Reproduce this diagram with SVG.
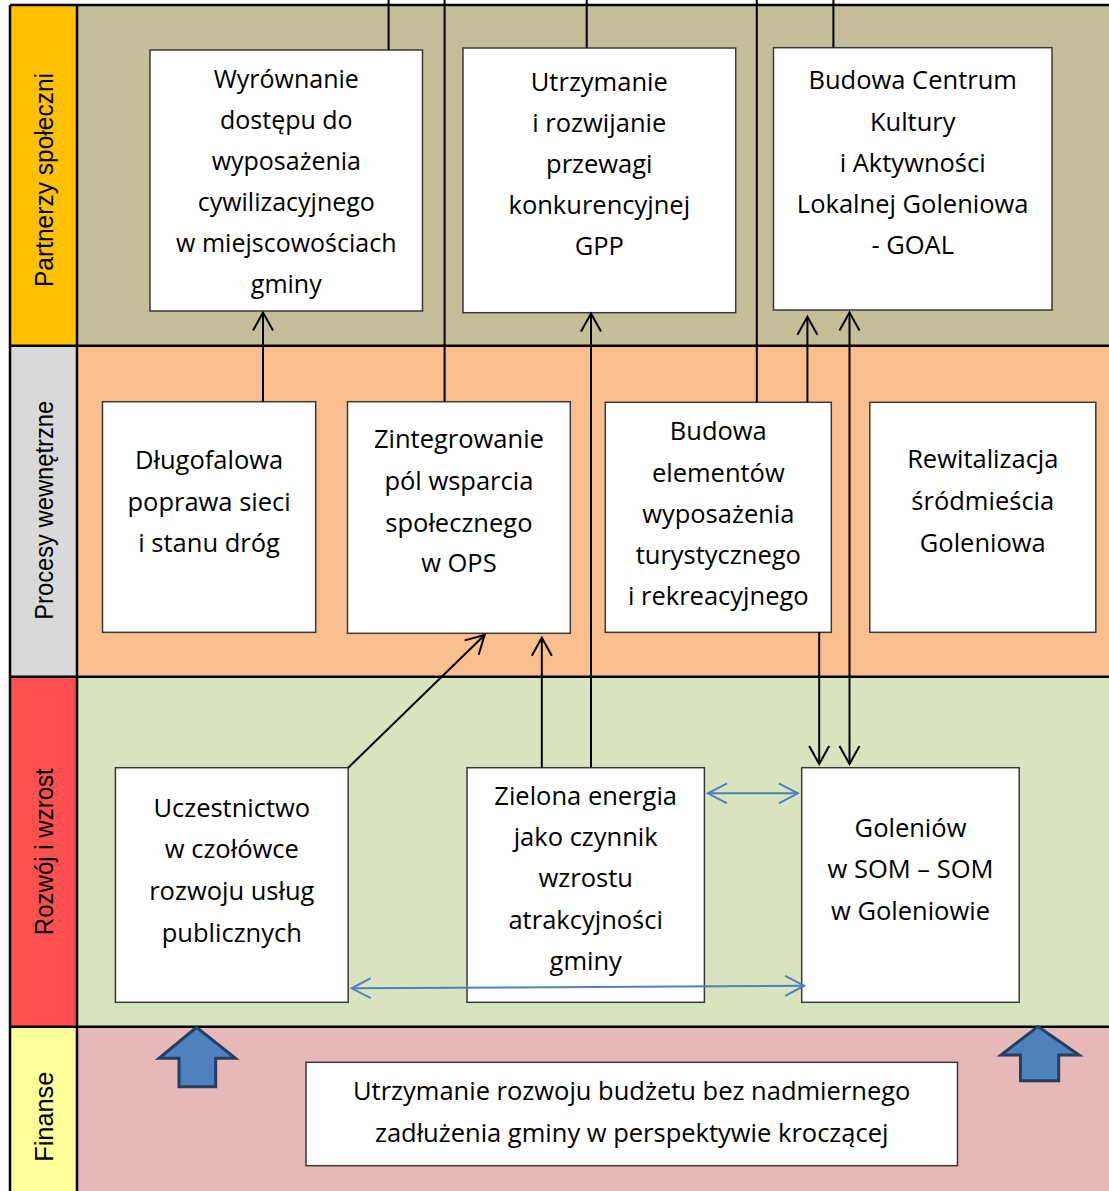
<svg xmlns="http://www.w3.org/2000/svg" width="1109" height="1191" viewBox="0 0 1109 1191">
<defs>
<style>
.box{fill:#fff;stroke:#3a3a3a;stroke-width:1.5}
.t{font-family:"Open Sans","Noto Sans","Liberation Sans",sans-serif;font-size:25.5px;fill:#000;text-anchor:middle}
.t1{font-size:25px}
.lab{font-family:"Liberation Sans",Arial,sans-serif;font-size:26px;fill:#000;text-anchor:middle}
.grid{stroke:#000;stroke-width:2.5;fill:none}
.con{stroke:#000;stroke-width:2;fill:none}
.blue{stroke:#4F81BD;stroke-width:2;fill:none}
.block{fill:#4F81BD;stroke:#243F60;stroke-width:3;stroke-linejoin:miter}
</style>
<marker id="ah" viewBox="-20 -12 24 24" markerWidth="24" markerHeight="24" refX="0" refY="0" orient="auto-start-reverse" markerUnits="userSpaceOnUse">
<path d="M-18,-10 L0,0 L-18,10" fill="none" stroke="#000" stroke-width="2"/>
</marker>
<marker id="bh" viewBox="-22 -12 26 24" markerWidth="26" markerHeight="24" refX="0" refY="0" orient="auto-start-reverse" markerUnits="userSpaceOnUse">
<path d="M-19,-10 L0,0 L-19,10" fill="none" stroke="#4F81BD" stroke-width="2"/>
</marker>
</defs>

<g id="lanes">
<rect x="77" y="5" width="1032" height="340.7" fill="#C4BD97"/>
<rect x="77" y="345.7" width="1032" height="331" fill="#F9BF8F"/>
<rect x="77" y="676.7" width="1032" height="350" fill="#D7E4BD"/>
<rect x="77" y="1026.7" width="1032" height="164.3" fill="#E6B9B8"/>
<rect x="10" y="5" width="67" height="340.7" fill="#FFC000"/>
<rect x="10" y="345.7" width="67" height="331" fill="#D9D9D9"/>
<rect x="10" y="676.7" width="67" height="350" fill="#FF5050"/>
<rect x="10" y="1026.7" width="67" height="164.3" fill="#FFFF99"/>
<path class="grid" d="M10,5 H1109 M10,345.7 H1109 M10,676.7 H1109 M10,1026.7 H1109 M10,5 V1191 M77,5 V1191"/>
<text class="lab" transform="translate(53.3,180) rotate(-90)" textLength="214" lengthAdjust="spacingAndGlyphs">Partnerzy społeczni</text>
<text class="lab" transform="translate(53.3,510.3) rotate(-90)" textLength="219" lengthAdjust="spacingAndGlyphs">Procesy wewnętrzne</text>
<text class="lab" transform="translate(53.3,851.7) rotate(-90)" textLength="167" lengthAdjust="spacingAndGlyphs">Rozwój i wzrost</text>
<text class="lab" transform="translate(53.3,1116.7) rotate(-90)" textLength="90" lengthAdjust="spacingAndGlyphs">Finanse</text>
</g>

<g id="n1"><rect class="box" x="150" y="50" width="272.5" height="261"/>
<text class="t t1"><tspan x="286.3" y="87.7">Wyrównanie</tspan><tspan x="286.3" y="128.7">dostępu do</tspan><tspan x="286.3" y="169.7">wyposażenia</tspan><tspan x="286.3" y="210.7">cywilizacyjnego</tspan><tspan x="286.3" y="251.7">w miejscowościach</tspan><tspan x="286.3" y="292.7">gminy</tspan></text></g>

<g id="n2"><rect class="box" x="463" y="48" width="272.7" height="264.7"/>
<text class="t"><tspan x="599.3" y="90.7">Utrzymanie</tspan><tspan x="599.3" y="131.7">i rozwijanie</tspan><tspan x="599.3" y="172.7">przewagi</tspan><tspan x="599.3" y="213.7">konkurencyjnej</tspan><tspan x="599.3" y="255">GPP</tspan></text></g>

<g id="n3"><rect class="box" x="773.5" y="47.7" width="278.5" height="262.3"/>
<text class="t"><tspan x="912.7" y="89.3">Budowa Centrum</tspan><tspan x="912.7" y="130.7">Kultury</tspan><tspan x="912.7" y="172.3">i Aktywności</tspan><tspan x="912.7" y="213.3">Lokalnej Goleniowa</tspan><tspan x="912.7" y="254.3">- GOAL</tspan></text></g>

<g id="n4"><rect class="box" x="102.5" y="401.7" width="213.2" height="230.6"/>
<text class="t"><tspan x="209.1" y="469">Długofalowa</tspan><tspan x="209.1" y="510.5">poprawa sieci</tspan><tspan x="209.1" y="552">i stanu dróg</tspan></text></g>

<g id="n5"><rect class="box" x="347.5" y="401.7" width="222.8" height="231.6"/>
<text class="t"><tspan x="458.9" y="448.3">Zintegrowanie</tspan><tspan x="458.9" y="490">pól wsparcia</tspan><tspan x="458.9" y="531.7">społecznego</tspan><tspan x="458.9" y="572">w OPS</tspan></text></g>

<g id="n6"><rect class="box" x="605.3" y="402.3" width="226" height="230"/>
<text class="t"><tspan x="718.3" y="440">Budowa</tspan><tspan x="718.3" y="481.7">elementów</tspan><tspan x="718.3" y="522.7">wyposażenia</tspan><tspan x="718.3" y="564">turystycznego</tspan><tspan x="718.3" y="605">i rekreacyjnego</tspan></text></g>

<g id="n7"><rect class="box" x="869.8" y="402.3" width="226" height="230"/>
<text class="t"><tspan x="982.8" y="468.3">Rewitalizacja</tspan><tspan x="982.8" y="510">śródmieścia</tspan><tspan x="982.8" y="551.7">Goleniowa</tspan></text></g>

<g id="n8"><rect class="box" x="115.4" y="767.7" width="232.8" height="234.6"/>
<text class="t"><tspan x="231.8" y="816.7">Uczestnictwo</tspan><tspan x="231.8" y="858.3">w czołówce</tspan><tspan x="231.8" y="900">rozwoju usług</tspan><tspan x="231.8" y="941.7">publicznych</tspan></text></g>

<g id="n9"><rect class="box" x="467" y="767.7" width="237.4" height="234.6"/>
<text class="t"><tspan x="585.7" y="805">Zielona energia</tspan><tspan x="585.7" y="846">jako czynnik</tspan><tspan x="585.7" y="887">wzrostu</tspan><tspan x="585.7" y="928.7">atrakcyjności</tspan><tspan x="585.7" y="970">gminy</tspan></text></g>

<g id="n10"><rect class="box" x="801.7" y="767.7" width="217.5" height="234.6"/>
<text class="t"><tspan x="910.5" y="836.7">Goleniów</tspan><tspan x="910.5" y="878.3">w SOM – SOM</tspan><tspan x="910.5" y="920">w Goleniowie</tspan></text></g>

<g id="n11"><rect class="box" x="306" y="1062.3" width="651.5" height="103.4"/>
<text class="t"><tspan x="631.7" y="1100">Utrzymanie rozwoju budżetu bez nadmiernego</tspan><tspan x="631.7" y="1142">zadłużenia gminy w perspektywie kroczącej</tspan></text></g>

<g id="connectors">
<line class="con" x1="388.6" y1="0" x2="388.6" y2="50"/>
<line class="con" x1="444.6" y1="0" x2="444.6" y2="401.7"/>
<line class="con" x1="586.7" y1="0" x2="586.7" y2="48"/>
<line class="con" x1="756.8" y1="0" x2="756.8" y2="402.3"/>
<line class="con" x1="833.4" y1="0" x2="833.4" y2="48"/>
<line class="con" x1="263" y1="401.7" x2="263" y2="312.5" marker-end="url(#ah)"/>
<line class="con" x1="591" y1="767.7" x2="591" y2="313.5" marker-end="url(#ah)"/>
<line class="con" x1="807.4" y1="402.3" x2="807.4" y2="316.7" marker-end="url(#ah)"/>
<line class="con" x1="849.5" y1="312.5" x2="849.5" y2="764" marker-start="url(#ah)" marker-end="url(#ah)"/>
<line class="con" x1="819.2" y1="632.3" x2="819.2" y2="764" marker-end="url(#ah)"/>
<line class="con" x1="541.8" y1="767.7" x2="541.8" y2="637.7" marker-end="url(#ah)"/>
<line class="con" x1="348.2" y1="767.7" x2="484.6" y2="635" marker-end="url(#ah)"/>
<line class="blue" x1="708" y1="793.3" x2="797.8" y2="793.3" marker-start="url(#bh)" marker-end="url(#bh)"/>
<line class="blue" x1="351.8" y1="988.3" x2="804.2" y2="985.7" marker-start="url(#bh)" marker-end="url(#bh)"/>
</g>

<g id="blockarrows">
<polygon class="block" points="196.6,1027.3 235.5,1058.3 215.7,1058.3 215.7,1086.7 179,1086.7 179,1058.3 159,1058.3"/>
<polygon class="block" points="1038,1026.5 1079,1055 1058.7,1055 1058.7,1080.7 1020.5,1080.7 1020.5,1055 1001,1055"/>
</g>
</svg>
